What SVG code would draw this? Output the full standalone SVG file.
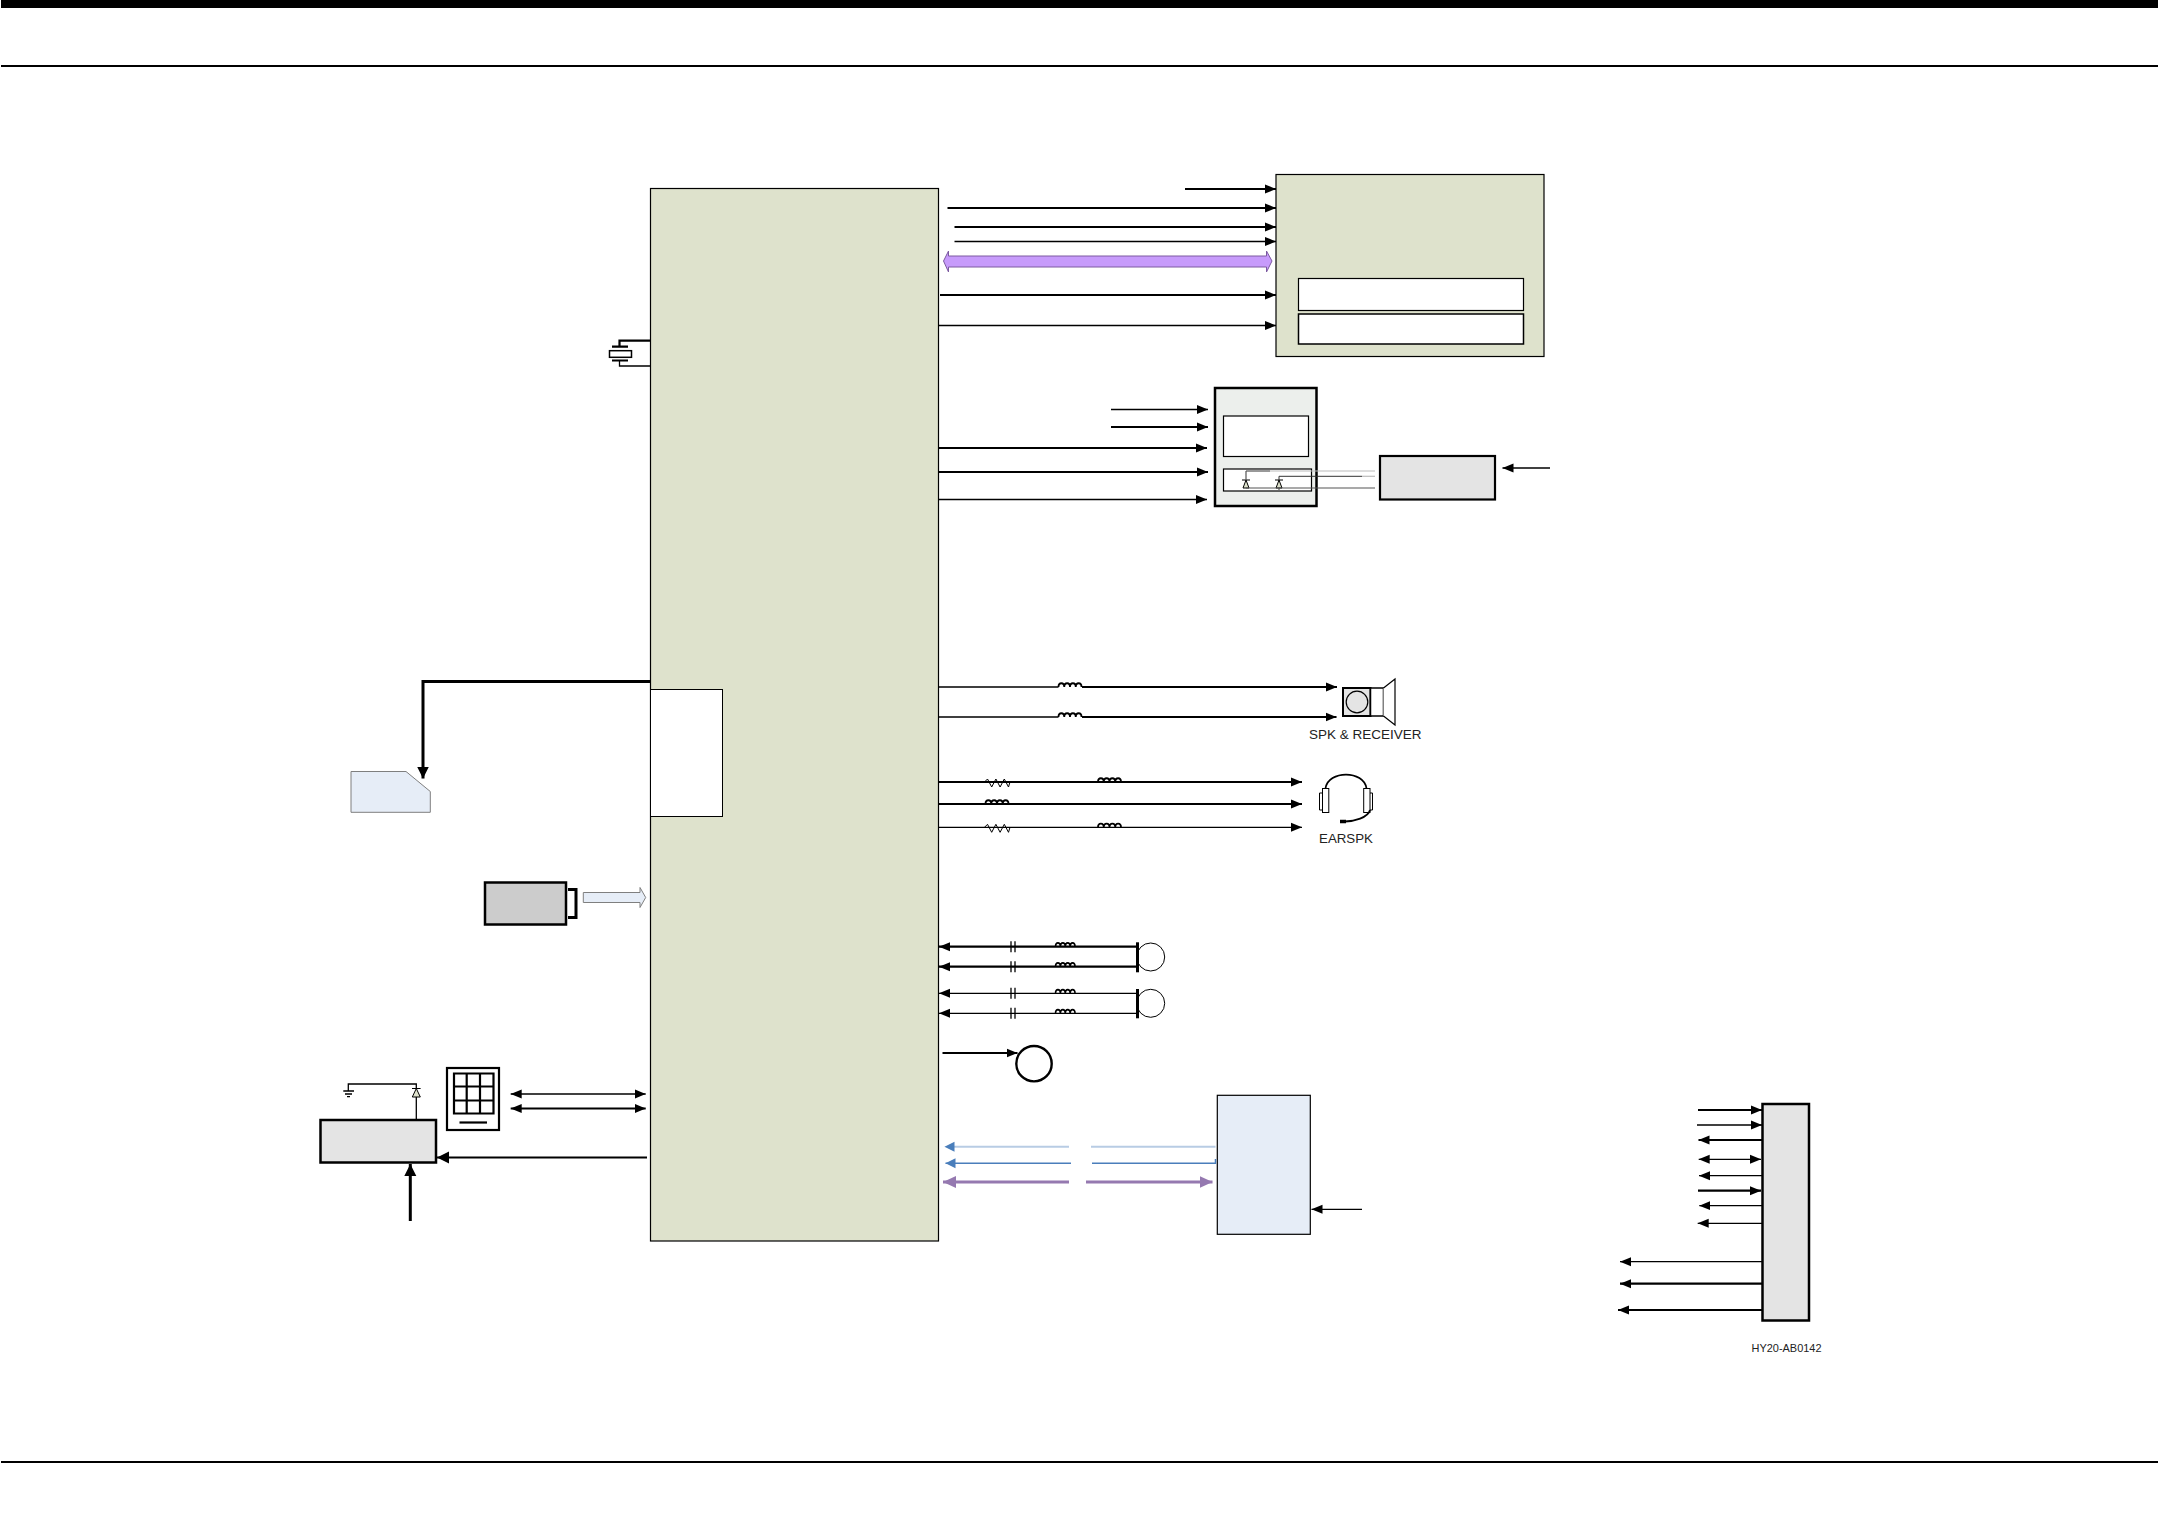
<svg xmlns="http://www.w3.org/2000/svg" width="2158" height="1521" viewBox="0 0 2158 1521">
<style>
text{font-family:"Liberation Sans",Arial,sans-serif;fill:#222}
.b{stroke:#000;fill:none}
.t1{stroke-width:1.3}.t2{stroke-width:2.2}.t3{stroke-width:3}
.box{stroke:#000}
.g{fill:#dee2cc}.w{fill:#fff}.bl{fill:#e6edf7}.gr{fill:#e4e4e4}
</style>
<defs>
<marker id="a" markerUnits="userSpaceOnUse" markerWidth="12" markerHeight="10" refX="11" refY="5" orient="auto-start-reverse"><path d="M0 .5L11 5L0 9.500z" fill="#000"/></marker>
<marker id="al" markerUnits="userSpaceOnUse" markerWidth="13" markerHeight="13" refX="12" refY="6.500" orient="auto-start-reverse"><path d="M0 .5L12 6.500L0 12.500z" fill="#000"/></marker>
<marker id="ab" markerUnits="userSpaceOnUse" markerWidth="11" markerHeight="12" refX="10" refY="6" orient="auto-start-reverse"><path d="M0 1L10 6L0 11z" fill="#4a7ebb"/></marker>
<marker id="ap" markerUnits="userSpaceOnUse" markerWidth="14" markerHeight="14" refX="13" refY="7" orient="auto-start-reverse"><path d="M0 1L13 7L0 13z" fill="#9579b0"/></marker>
<path id="ind" d="M0 0c0-5 5.750-5 5.750 0c0-5 5.750-5 5.750 0c0-5 5.750-5 5.750 0c0-5 5.750-5 5.750 0" fill="none" stroke="#000" stroke-width="1.800"/>
<path id="res" d="M0 0l3-3 4.200 8 4.200-8 4.200 8 4.200-8 4.200 8 1.500-5" fill="none" stroke="#000" stroke-width="1"/>
<g id="cap"><path d="M0-5.500V5.500M4-5.500V5.500" stroke="#000" stroke-width="1.300" fill="none"/></g>
<path id="dio" d="M-4 0h8M0 0l-3 8h6z" fill="#dee2cc" stroke="#000" stroke-width="1"/>
</defs>

<g id="frame">
<rect x="1" y="0" width="2157" height="8" fill="#000"/>
<rect x="1" y="65" width="2157" height="2" fill="#000"/>
<rect x="1" y="1461" width="2157" height="2" fill="#000"/>
</g>

<g id="main-chip">
<rect class="box g" x="650.500" y="188.500" width="288" height="1052.500" stroke-width="1.200"/>
<rect class="box w" x="650.500" y="689.500" width="72" height="127" stroke-width="1"/>
</g>

<g id="crystal">
<path class="b t2" d="M650 340.700H619.500V346.500"/>
<path class="b t1" d="M650 366H619.500V360.500"/>
<path class="b t2" d="M612 346.700H628M612 360.500H628"/>
<rect x="609.500" y="350.700" width="22" height="6.600" fill="#fff" stroke="#000" stroke-width="1.500"/>
</g>

<g id="display-module">
<rect class="box g" x="1276" y="174.500" width="268" height="182" stroke-width="1.200"/>
<rect class="box w" x="1298.500" y="278.500" width="225" height="32" stroke-width="1.200"/>
<rect class="box w" x="1298.500" y="314" width="225" height="30" stroke-width="1.500"/>
</g>

<g id="flash-module">
<rect x="1215" y="388" width="101.500" height="118" fill="#ecefec" stroke="#000" stroke-width="2.500"/>
<rect class="box w" x="1223.500" y="416" width="85" height="40.500" stroke-width="1.200"/>
<rect class="box w" x="1223.500" y="469" width="88" height="22" stroke-width="1.200"/>
<use href="#dio" x="1246" y="480"/>
<use href="#dio" x="1279" y="480"/>
</g>

<g id="backlight-driver">
<rect class="box gr" x="1380" y="456" width="115" height="43.500" stroke-width="2.200"/>
</g>

<g id="speaker">
<rect x="1343" y="688" width="27.500" height="28" fill="#e4e4e4" stroke="#000" stroke-width="2"/>
<circle cx="1357" cy="702" r="10.800" fill="#e4e4e4" stroke="#000" stroke-width="1.200"/>
<rect x="1370.500" y="688" width="13" height="28" fill="#fff" stroke="#000" stroke-width="1.500"/>
<path d="M1383.500 688L1395 679V725L1383.500 716" fill="#fff" stroke="#000" stroke-width="1.200"/>
<text x="1309" y="739" font-size="13.500" textLength="112.500" lengthAdjust="spacingAndGlyphs">SPK &amp; RECEIVER</text>
</g>

<g id="earspk">
<path d="M1325.500 788.500C1328 770 1364 770 1366.500 788.500" fill="none" stroke="#000" stroke-width="1.800"/>
<rect x="1322.500" y="788.500" width="6.300" height="24" fill="#fff" stroke="#000" stroke-width="1"/>
<rect x="1363.700" y="788.500" width="6.300" height="24" fill="#fff" stroke="#000" stroke-width="1"/>
<path d="M1322.300 793H1319.500V810H1322.300M1370 793H1372.500V810H1370" fill="none" stroke="#000" stroke-width="1"/>
<path d="M1370 810C1368 818 1354 821 1345 821.500" fill="none" stroke="#000" stroke-width="1.800"/>
<path d="M1340 821.500H1346" fill="none" stroke="#000" stroke-width="3.500"/>
<text x="1319" y="842.700" font-size="13.500" textLength="54" lengthAdjust="spacingAndGlyphs">EARSPK</text>
</g>

<g id="mic-1">
<circle cx="1150.700" cy="957" r="14" fill="#fff" stroke="#000" stroke-width="1"/>
<path class="b t3" d="M1137.500 942.300V972.300"/>
</g>
<g id="mic-2">
<circle cx="1150.700" cy="1003.300" r="14" fill="#fff" stroke="#000" stroke-width="1"/>
<path class="b t3" d="M1137.500 989V1018.300"/>
</g>

<g id="vibrator">
<circle cx="1034" cy="1063.700" r="17.700" fill="#fff" stroke="#000" stroke-width="2.400"/>
</g>

<g id="bluetooth">
<rect class="box bl" x="1217.300" y="1095.300" width="93" height="139" stroke-width="1.200"/>
</g>

<g id="sim">
<path d="M351 771.500H406L430.300 791.500V812.300H351z" fill="#e6edf7" stroke="#7f7f7f" stroke-width="1"/>
</g>

<g id="camera">
<rect x="485" y="882.500" width="81" height="42" fill="#ccc" stroke="#000" stroke-width="2.500"/>
<path class="b t3" d="M568 889.500H576V917.500H568"/>
</g>

<g id="keypad">
<rect x="447" y="1068" width="52" height="62" fill="#fff" stroke="#000" stroke-width="2.200"/>
<path class="b t2" d="M454 1073.500H493.500V1113.500H454zM466.700 1073.500V1113.500M480 1073.500V1113.500M454 1086.500H493.500M454 1100.500H493.500"/>
<path class="b t2" d="M459.500 1122.500H487"/>
</g>

<g id="key-backlight">
<rect class="box gr" x="320.500" y="1120" width="115.500" height="42.500" stroke-width="2.500"/>
<path class="b t1" d="M416.300 1120V1096M416.300 1088.500V1084H348.300V1091M343.300 1091H354M345 1094H352M347 1096.700H350"/>
<path d="M412 1088.500h8.600M416.300 1088.500l-4 8.500h8z" fill="#dee2cc" stroke="#000" stroke-width="1"/>
</g>

<g id="connector">
<rect x="1762.500" y="1104" width="46.500" height="216.500" fill="#e4e4e4" stroke="#000" stroke-width="2.500"/>
</g>
<g id="doc-code"><text x="1751.500" y="1351.500" font-size="11.500" textLength="70" lengthAdjust="spacingAndGlyphs" fill="#333">HY20-AB0142</text></g>

<g id="connectors">
<g marker-end="url(#a)">
<path class="b t2" d="M1185 189H1276"/>
<path class="b t2" d="M947.500 208H1276"/>
<path class="b t2" d="M954.500 227H1276"/>
<path class="b t1" d="M954.500 241.500H1276"/>
<path class="b t2" d="M940 295H1276"/>
<path class="b t1" d="M939 325.500H1276"/>
<path class="b t1" d="M1111 409.500H1208"/>
<path class="b t2" d="M1111 427H1208"/>
<path class="b t2" d="M939 448H1207"/>
<path class="b t2" d="M939 472H1208"/>
<path class="b t1" d="M939 499.500H1207"/>
<path class="b t1" d="M1550 468H1502.500"/>
<path class="b t2" d="M1082 687H1337"/>
<path class="b t2" d="M1082 717H1336.500"/>
<path class="b t2" d="M939 782H1302"/>
<path class="b t2" d="M939 804H1302"/>
<path class="b t1" d="M939 827.300H1302"/>
<path class="b t2" d="M1136.500 946.700H939"/>
<path class="b t2" d="M1136.500 966.700H939"/>
<path class="b t1" d="M1136.500 993.300H939"/>
<path class="b t1" d="M1136.500 1013.300H939"/>
<path class="b t2" d="M942.500 1053H1017.500"/>
<path class="b t1" d="M1362 1209.300H1311.500"/>
<path class="b t2" d="M1698 1110H1762"/>
<path class="b t1" d="M1697 1125H1762"/>
<path class="b t2" d="M1762 1140H1698.500"/>
<path class="b t1" d="M1762 1175.700H1699"/>
<path class="b t2" d="M1698 1190.700H1761"/>
<path class="b t1" d="M1762 1205.700H1699.300"/>
<path class="b t1" d="M1762 1223.300H1697.700"/>
<path class="b t1" d="M1762 1261.700H1620"/>
<path class="b t2" d="M1762 1283.700H1620"/>
<path class="b t2" d="M1762 1310H1618"/>
</g>
<g marker-end="url(#al)">
<path class="b t3" d="M650 681.500H423V778.500"/>
<path class="b t2" d="M647 1157.500H437"/>
<path class="b t3" d="M410.300 1221V1164"/>
</g>
<g marker-start="url(#a)" marker-end="url(#a)">
<path class="b t1" d="M510.700 1094H645.700"/>
<path class="b t2" d="M510.700 1108.500H645.700"/>
<path class="b t1" d="M1698.700 1159.300H1761"/>
</g>
<path d="M943.500 261L948.500 251V256H1266.500V251L1272 261L1266.500 272V267H948.500V272z" fill="#c79bfb" stroke="#7c5aa0" stroke-width="1"/>
<path d="M583.300 892.500H640V887.500L645.700 897.500L640 907.500V902.500H583.300z" fill="#e6edf7" stroke="#7f7f7f" stroke-width="1"/>
<g fill="none">
<path d="M1246 471H1270" stroke="#333" stroke-width="1"/><path d="M1270 471H1375" stroke="#bbb" stroke-width="1.200"/>
<path d="M1279 480V476.300H1362" stroke="#333" stroke-width="1"/><path d="M1362 476.300H1375" stroke="#bbb" stroke-width="1.200"/>
<path d="M1246 471V480M1246 488H1375M1279 488V490" stroke="#555" stroke-width="1.200"/>
</g>
<path class="b t1" d="M938.500 687H1058.500M938.500 717H1058.500"/>
<use href="#ind" x="1058.500" y="687"/><use href="#ind" x="1058.500" y="717"/>
<use href="#res" x="984.500" y="782"/><use href="#ind" x="1098" y="782"/>
<use href="#ind" x="985.500" y="804"/>
<use href="#res" x="984.500" y="827.300"/><use href="#ind" x="1098" y="827.300"/>
<use href="#cap" x="1011" y="946.700"/><use href="#cap" x="1011" y="966.700"/><use href="#cap" x="1011" y="993.300"/><use href="#cap" x="1011" y="1013.300"/>
<g transform="translate(1055.500 946.700) scale(.85 1)"><use href="#ind"/></g>
<g transform="translate(1055.500 966.700) scale(.85 1)"><use href="#ind"/></g>
<g transform="translate(1055.500 993.300) scale(.85 1)"><use href="#ind"/></g>
<g transform="translate(1055.500 1013.300) scale(.85 1)"><use href="#ind"/></g>
<path d="M1069 1146.700H952" stroke="#b8cce4" stroke-width="2" fill="none"/>
<path d="M956 1146.700H944.500" stroke="#4a7ebb" stroke-width="0.100" fill="none" marker-end="url(#ab)"/>
<path d="M1091 1146.700H1215.500" stroke="#b8cce4" stroke-width="2" fill="none"/>
<path d="M1071 1163.300H945.500" stroke="#4a7ebb" stroke-width="1.500" fill="none" marker-end="url(#ab)"/>
<path d="M1092 1163.300H1215.500V1159" stroke="#4a7ebb" stroke-width="1.500" fill="none"/>
<path d="M1069 1182H943" stroke="#9579b0" stroke-width="3" fill="none" marker-end="url(#ap)"/>
<path d="M1086 1182H1212.500" stroke="#9579b0" stroke-width="3" fill="none" marker-end="url(#ap)"/>
</g>
</svg>
